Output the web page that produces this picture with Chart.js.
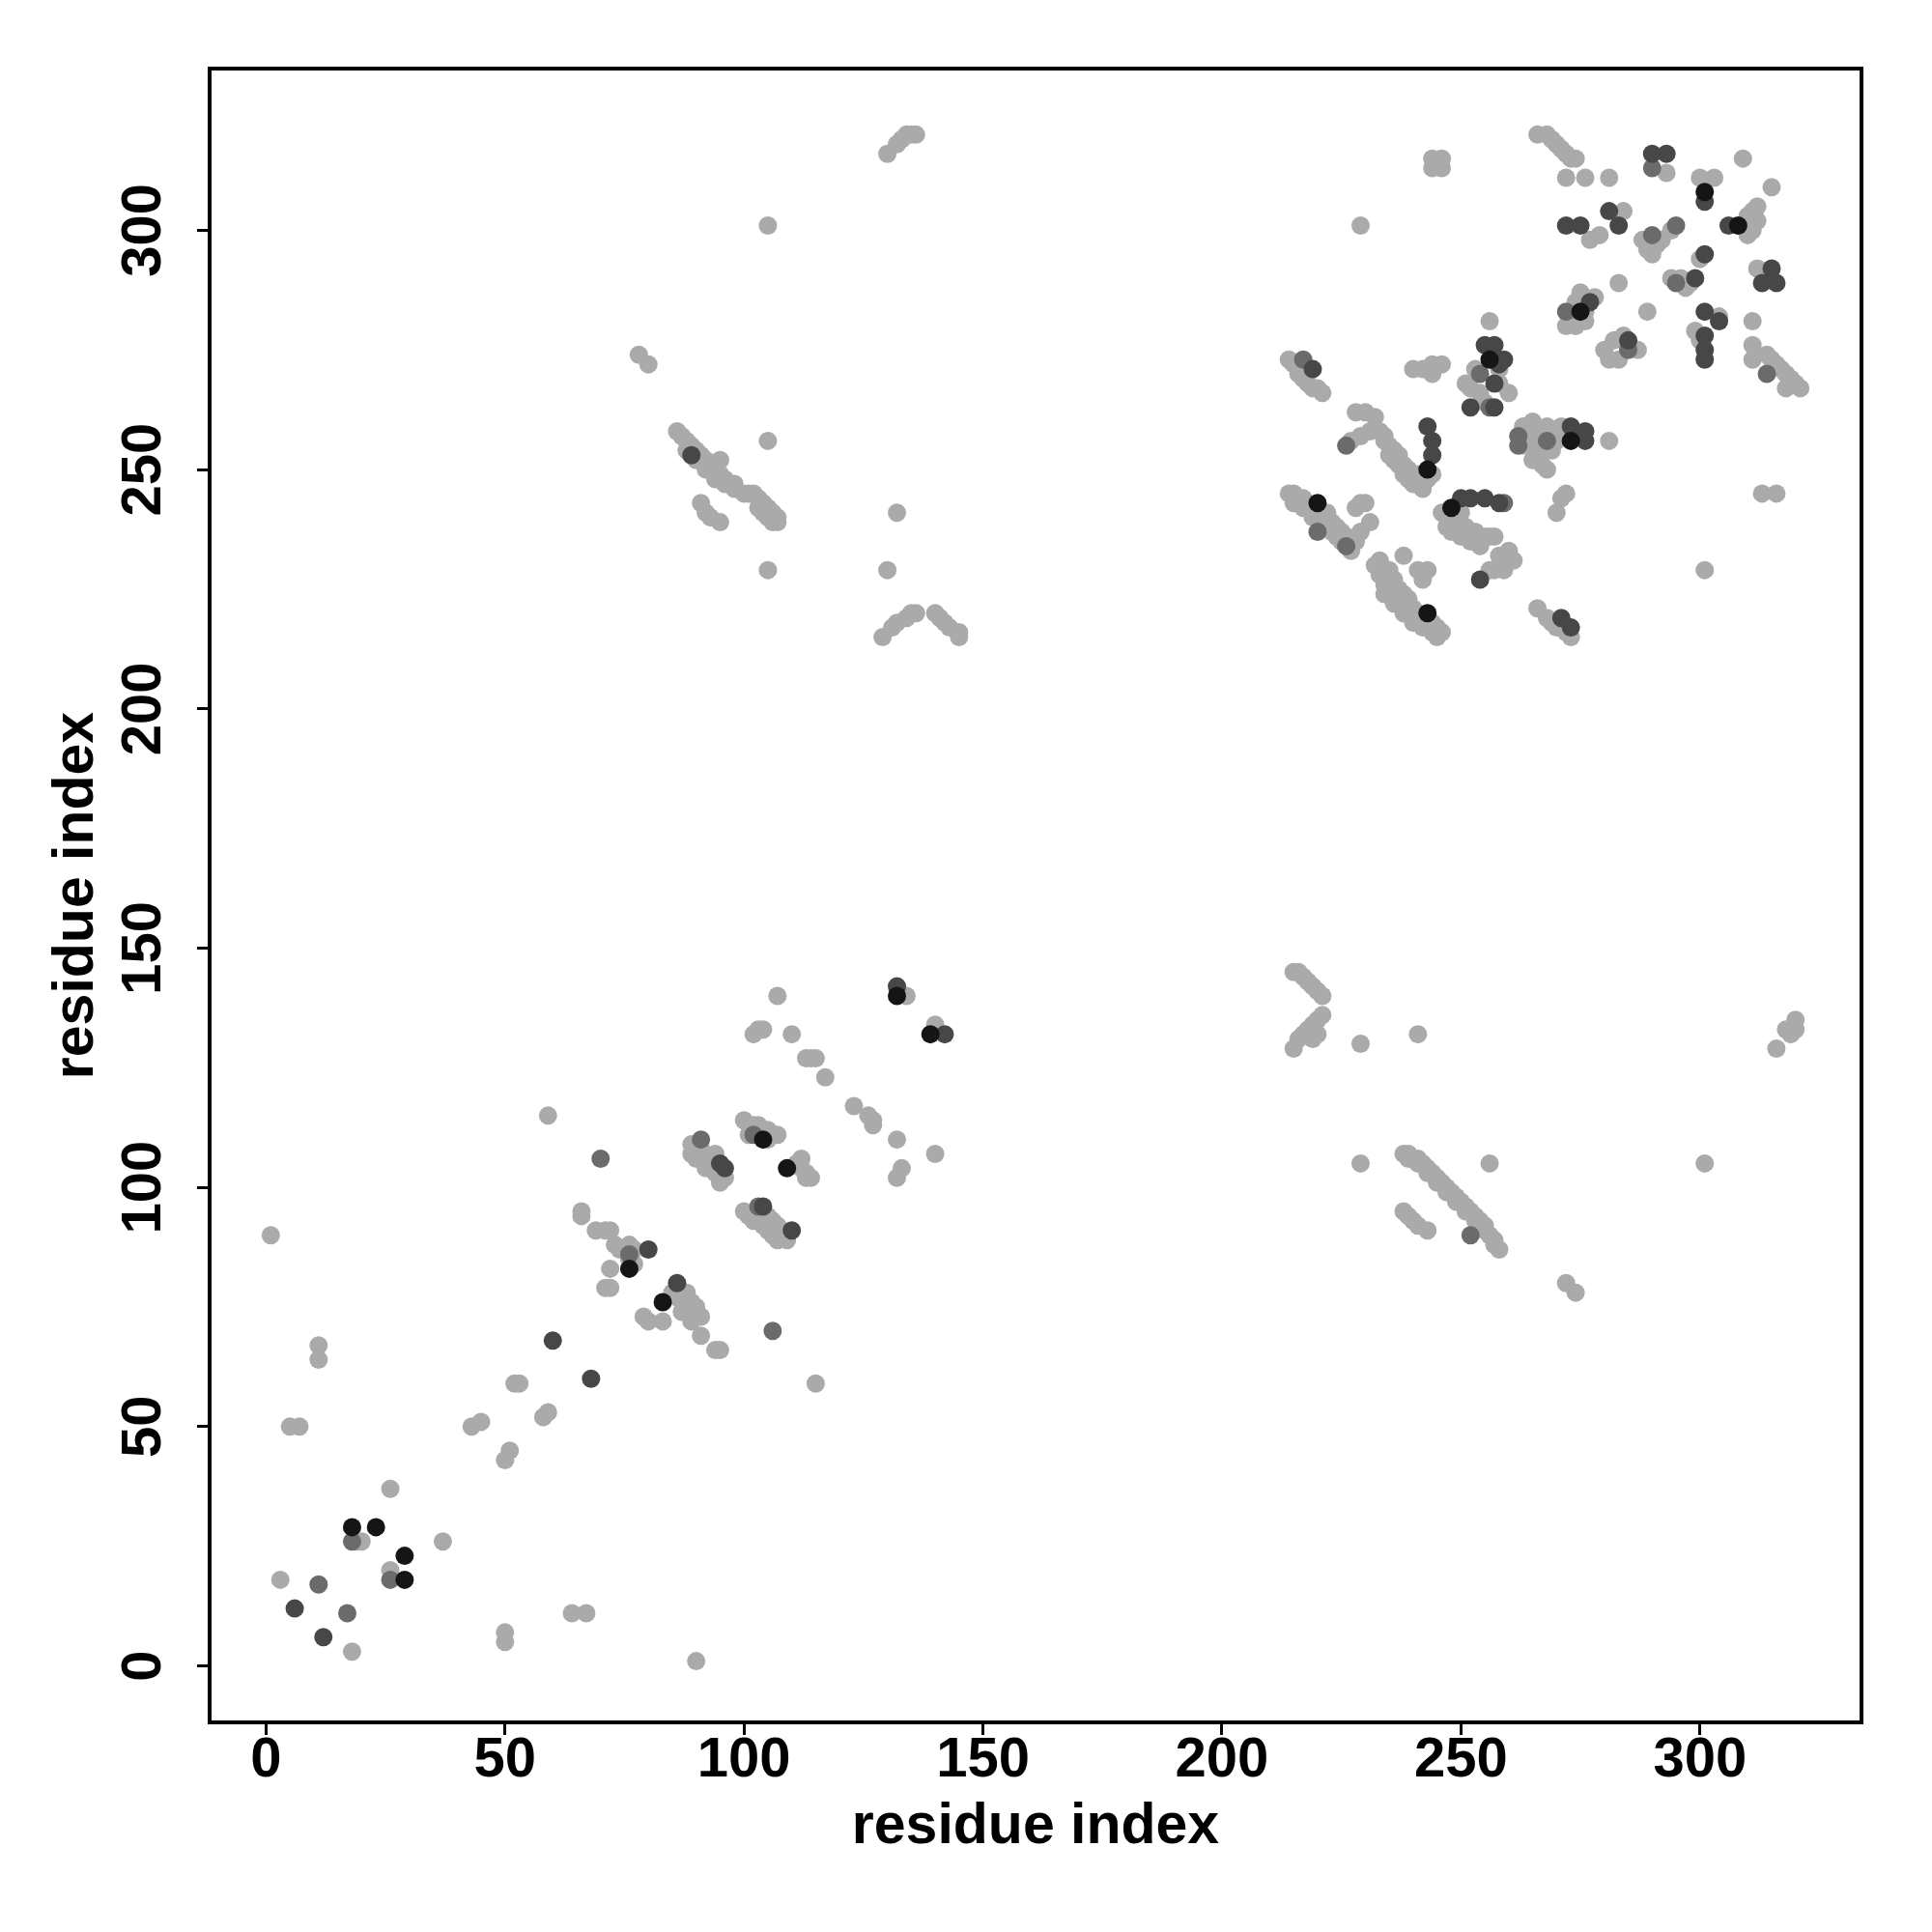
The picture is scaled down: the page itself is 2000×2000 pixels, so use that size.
<!DOCTYPE html>
<html>
<head>
<meta charset="utf-8">
<script src="https://cdn.jsdelivr.net/npm/chart.js@4/dist/chart.umd.min.js"></script>
<style>
html, body { margin: 0; padding: 0; background: #fff; }
canvas { display: block; }
</style>
</head>
<body>
<canvas id="contact-map" width="2000" height="2000"></canvas>
<script>
const xTicks = [0, 50, 100, 150, 200, 250, 300];
const yTicks = [0, 50, 100, 150, 200, 250, 300];
const axisTitle = 'residue index';

// contacts, grouped by shade (light -> black)
const lightPts = [
  [1,90],[11,67],[11,64],[52,59],[53,59],[58,52],[59,53],[43,50],[45,51],[51,45],[50,43],[5,50],[7,50],
  [26,37],[19,26],[20,26],[37,26],[26,20],[3,18],[18,3],[64,11],[67,11],[50,7],[50,5],[90,1],
  [59,115],[66,94],[66,95],[69,91],[71,91],[72,91],[73,88],[74,87],[76,88],[77,87],[72,83],[71,79],[72,79],[76,85],[77,84],
  [85,78],[88,78],[87,74],[91,73],[91,69],[79,73],[80,72],[83,72],[94,66],[95,66],[86,77],[89,76],[90,75],[89,72],
  [89,109],[89,107],[90,107],[91,108],[92,106],[93,105],[94,107],[94,103],[95,101],[96,102],[92,104],[90,106],
  [100,114],[102,113],[103,113],[104,112],[105,112],[106,111],[107,111],[101,111],[105,110],
  [100,95],[101,94],[102,93],[103,95],[104,92],[105,94],[106,93],[107,92],[108,91],[106,90],[107,89],[109,89],[104,94],[105,91],
  [112,106],[113,102],[114,102],[112,104],[113,103],[111,105],
  [102,132],[103,133],[104,133],[107,140],[110,132],[113,127],[114,127],[115,127],[117,123],[123,117],[126,115],[127,113],
  [127,114],[132,110],[140,107],[133,104],[132,102],[134,140],[140,134],[115,59],
  [105,301],[78,274],[80,272],[105,256],[105,229],[132,241],[130,229],
  [86,258],[87,257],[88,256],[89,255],[90,254],[91,253],[92,252],[93,251],[94,250],[95,249],[96,248],[97,247],[98,247],
  [100,245],[101,245],[102,245],[103,244],[104,243],[105,242],[106,241],[107,240],[107,239],[95,252],[104,241],[106,239],
  [88,254],[90,252],[92,250],[94,248],[96,247],[98,246],[103,242],[105,240],
  [91,243],[92,241],[93,240],[95,239],
  [130,316],[132,318],[133,319],[134,320],[135,320],[136,320],
  [129,215],[131,217],[132,218],[134,219],[135,220],[136,220],[140,220],[141,219],[142,218],[143,217],[145,216],[145,215],
  [215,145],[216,145],[217,144],[218,143],[219,142],[220,141],[221,140],[215,129],[216,131],[217,132],[218,133],[219,134],
  [220,135],[221,136],[219,131],[220,132],[229,130],[241,132],[229,105],
  [238,107],[239,107],[240,106],[241,106],[242,105],[243,104],[244,103],[245,102],[246,101],[247,100],[248,99],[249,98],
  [250,97],[251,96],[252,95],[253,94],[254,93],[255,91],[256,90],[257,88],[258,87],
  [239,106],[241,105],[243,103],[245,101],[247,99],[249,97],[251,95],[253,93],[255,92],[257,89],
  [238,95],[239,94],[240,93],[241,92],[243,91],
  [256,105],[301,105],[272,80],[274,78],[316,129],[318,133],[319,132],[320,135],[320,133],
  [229,301],[256,281],[244,315],[246,315],[244,313],[246,313],
  [214,273],[215,272],[216,270],[217,269],[218,268],[219,267],[220,267],[221,266],
  [240,271],[242,271],[244,272],[246,272],[244,270],
  [228,262],[230,262],[232,261],[231,258],[229,257],[227,256],
  [234,257],[235,255],[236,254],[237,253],[238,251],[239,250],[240,249],[241,247],[242,246],[243,248],[244,249],
  [233,258],[234,256],[235,253],[236,252],[237,251],[238,249],[239,248],[240,247],[241,249],[242,248],
  [214,245],[215,245],[216,244],[217,244],[218,243],[219,242],[220,241],[221,240],[222,239],[223,239],[224,238],[225,237],
  [226,236],[227,235],[228,235],[229,243],[228,242],[230,243],[231,239],[229,237],
  [215,243],[217,242],[219,240],[221,238],[223,237],[225,235],[227,233],[224,236],[222,241],
  [232,230],[233,228],[234,226],[236,224],[237,222],[238,220],[240,218],[242,217],[244,216],[245,215],[238,232],[241,229],
  [243,229],[242,227],[235,227],[239,222],
  [233,231],[235,229],[236,227],[237,225],[238,224],[239,223],[240,221],[241,220],[242,219],[243,218],[244,218],[245,217],
  [246,216],[234,224],[236,222],
  [253,271],[251,268],[252,267],[254,266],[255,264],[258,271],[260,266],[258,268],
  [246,241],[247,240],[248,239],[249,239],[250,238],[251,238],[252,237],[253,237],[254,236],[255,236],[256,236],[257,236],[250,241],
  [248,237],[250,236],[252,235],[254,234],[247,238],
  [258,232],[260,233],[261,231],[259,229],[256,229],[257,229],
  [266,221],[268,219],[269,218],[270,217],[272,216],[273,215],
  [271,244],[272,245],[270,241],
  [265,260],[268,259],[271,259],[266,253],[267,251],[268,250],[264,256],
  [263,259],[264,258],[266,257],[267,255],[269,254],[270,256],[265,252],[263,255],
  [281,256],
  [266,320],[268,320],[269,319],[270,318],[271,317],[272,316],[273,315],[274,315],
  [272,311],[276,311],[281,311],[293,312],[300,311],[303,311],
  [279,299],[284,304],[277,298],
  [288,298],[289,296],[290,295],[291,297],[292,298],[294,300],
  [300,294],[296,290],[297,288],[298,289],[294,290],
  [283,289],[289,283],
  [272,280],[273,282],[274,285],[275,287],[276,283],[278,286],[274,280],[276,281],
  [280,275],[282,277],[287,275],[283,273],[281,273],[284,278],
  [304,282],[299,279],[300,277],
  [311,281],[311,276],[311,273],
  [310,303],[311,304],[312,302],[311,300],[310,299],[312,305],
  [309,315],[315,309],[312,292],
  [314,274],[315,273],[316,272],[317,271],[318,270],[319,269],[320,268],[321,267],[318,267],
  [313,245],[316,245],[301,229]
];
const mediumPts = [
  [18,26],[26,18],[11,17],[17,11],[70,106],[106,70],[76,86],[91,110],[103,96],[102,111],
  [226,255],[226,234],[220,237],[254,270],[256,263],[262,257],[262,255],[268,256],[272,283],
  [290,299],[295,301],[295,289],[285,275],[314,270],[290,313],[259,243],[252,90],[217,273]
];
const darkPts = [
  [60,68],[68,60],[6,12],[12,6],[80,87],[86,80],[95,105],[96,104],[104,96],[110,91],[132,142],[142,132],[89,253],
  [219,271],[243,259],[244,256],[244,253],[257,276],[259,273],[257,268],[257,263],[252,263],[255,276],[258,272],
  [250,244],[252,244],[255,244],[258,243],[254,227],[271,219],[273,217],[273,259],[276,258],[276,256],
  [272,301],[275,301],[281,304],[283,301],[290,316],[293,316],[301,295],[299,290],[301,283],[304,281],[301,278],
  [301,275],[301,273],[306,301],[315,292],[313,289],[316,289],[277,285],[285,277],[301,306]
];
const blackPts = [
  [18,29],[23,29],[29,23],[29,18],[76,83],[83,76],[104,110],[109,104],[132,140],[139,132],
  [220,243],[243,250],[243,220],[256,273],[248,242],[273,256],[275,283],[301,308],[308,301]
];

const toXY = pts => pts.map(p => ({ x: p[0], y: p[1] }));

function shade(pts, color, order) {
    return {
        data: toXY(pts),
        backgroundColor: color,
        borderWidth: 0,
        pointRadius: 9.5,
        pointHoverRadius: 9.5,
        order: order
    };
}

const fontFamily = '"Liberation Sans", Arial, sans-serif';

// frame + rotated tick labels, placed with the chart's own scales
const frameAndLabels = {
    id: 'frameAndLabels',
    afterDraw(chart) {
        const { ctx, chartArea: a, scales } = chart;
        ctx.save();
        ctx.strokeStyle = '#000';
        ctx.lineWidth = 4;
        ctx.strokeRect(a.left, a.top, a.right - a.left, a.bottom - a.top);
        ctx.fillStyle = '#000';
        ctx.font = 'bold 58px ' + fontFamily;
        ctx.textAlign = 'center';
        ctx.textBaseline = 'middle';
        xTicks.forEach(v => {
            ctx.fillText(String(v), scales.x.getPixelForValue(v), 1823);
        });
        yTicks.forEach(v => {
            ctx.save();
            ctx.translate(150, scales.y.getPixelForValue(v));
            ctx.rotate(-Math.PI / 2);
            ctx.fillText(String(v), 0, 0);
            ctx.restore();
        });
        ctx.restore();
    }
};

const tickGrid = { display: true, drawOnChartArea: false, drawTicks: true, tickLength: 13, color: '#000', lineWidth: 3 };

new Chart('contact-map', {
    type: 'scatter',
    data: {
        datasets: [
            shade(lightPts, '#aaaaaa', 3),
            shade(mediumPts, '#6b6b6b', 2),
            shade(darkPts, '#474747', 1),
            shade(blackPts, '#151515', 0)
        ]
    },
    options: {
        responsive: false,
        animation: false,
        events: [],
        layout: { padding: { top: 71, right: 73, left: 0, bottom: 0 } },
        plugins: { legend: { display: false }, tooltip: { enabled: false } },
        scales: {
            x: {
                type: 'linear',
                min: -11.8,
                max: 333.8,
                afterBuildTicks: s => { s.ticks = xTicks.map(v => ({ value: v })); },
                afterFit: s => { s.height = 217; },
                ticks: { display: false },
                grid: tickGrid,
                border: { display: false },
                title: {
                    display: true,
                    text: axisTitle,
                    color: '#000',
                    font: { family: fontFamily, size: 59, weight: 'bold', lineHeight: 1 },
                    padding: { top: 0, bottom: 79 }
                }
            },
            y: {
                type: 'linear',
                min: -11.8,
                max: 333.8,
                afterBuildTicks: s => { s.ticks = yTicks.map(v => ({ value: v })); },
                afterFit: s => { s.width = 217; },
                ticks: { display: false },
                grid: tickGrid,
                border: { display: false },
                title: {
                    display: true,
                    text: axisTitle,
                    color: '#000',
                    font: { family: fontFamily, size: 59, weight: 'bold', lineHeight: 1 },
                    padding: { top: 50, bottom: 0 }
                }
            }
        }
    },
    plugins: [frameAndLabels]
});
</script>
</body>
</html>
